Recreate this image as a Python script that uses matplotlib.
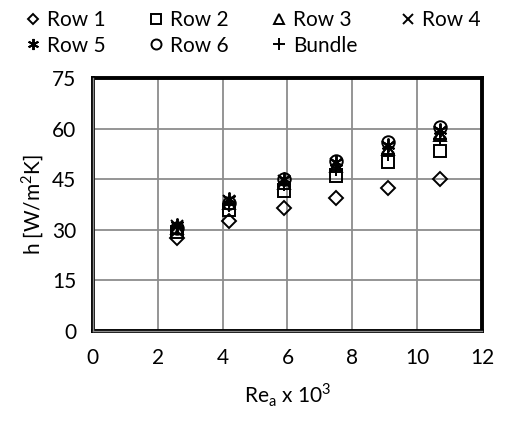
import matplotlib
matplotlib.use("Agg")
import matplotlib.pyplot as plt

plt.rcParams['font.family'] = ['Lato', 'DejaVu Sans']

# Re_a x 10^3
re = [2.6, 4.2, 5.9, 7.5, 9.1, 10.7]

# h [W/m2K] per row
row1 = [27.5, 32.5, 36.5, 39.5, 42.5, 45.0]
row2 = [29.5, 36.0, 41.5, 46.0, 50.0, 53.5]
row3 = [30.5, 38.0, 44.0, 49.0, 54.0, 58.0]
row4 = [31.0, 38.5, 44.5, 49.5, 54.5, 59.0]
row5 = [31.5, 39.0, 45.0, 50.0, 55.0, 59.5]
row6 = [30.5, 38.0, 45.0, 50.5, 56.0, 60.5]
bundle = [30.5, 37.5, 43.5, 48.0, 52.5, 57.0]

series = [
    ("Row 1", row1, "D", 7),
    ("Row 2", row2, "s", 9),
    ("Row 3", row3, "^", 9),
    ("Row 4", row4, "x", 9),
    ("Row 5", row5, (6, 2, 0), 10),
    ("Row 6", row6, "o", 9),
    ("Bundle", bundle, "+", 10),
]

fs = 15

fig = plt.figure(figsize=(5.07, 4.23), dpi=100)
ax = fig.add_axes([0.183, 0.2175, 0.768, 0.598])

handles = {}
for name, vals, mk, ms in series:
    h, = ax.plot(re, vals, linestyle="none", marker=mk, markersize=ms,
                 markerfacecolor="none", markeredgecolor="black",
                 markeredgewidth=1.4, label=name, clip_on=False, zorder=3)
    handles[name] = h

ax.set_xlim(0, 12)
ax.set_ylim(0, 75)
ax.set_xticks(range(0, 13, 2))
ax.set_yticks(range(0, 76, 15))
ax.grid(True, color="#8c8c8c", linewidth=1.3)
ax.set_axisbelow(True)
ax.tick_params(length=0, labelsize=fs, pad=12)

for s in ax.spines.values():
    s.set_color("black")
    s.set_linewidth(2.8)
# grey axis lines on left and bottom
ax.axvline(0, color="#8c8c8c", linewidth=1.0, zorder=5, clip_on=False)
ax.axhline(0, color="#8c8c8c", linewidth=1.0, zorder=5, clip_on=False)

ax.set_xlabel("Re$_\\mathregular{a}$ x 10$^\\mathregular{3}$", fontsize=fs, labelpad=10)
ax.set_ylabel("h [W/m$^\\mathregular{2}$K]", fontsize=fs, labelpad=4)

order = ["Row 1", "Row 5", "Row 2", "Row 6", "Row 3", "Bundle", "Row 4"]
leg = fig.legend([handles[n] for n in order], order, ncol=4, frameon=False,
                 loc="upper left", bbox_to_anchor=(0.02, 1.015), fontsize=fs,
                 handlelength=0.6, handletextpad=0.35, columnspacing=2.15,
                 labelspacing=0.25, markerscale=0.8, borderpad=0.3)

fig.savefig("out.png", dpi=100)
